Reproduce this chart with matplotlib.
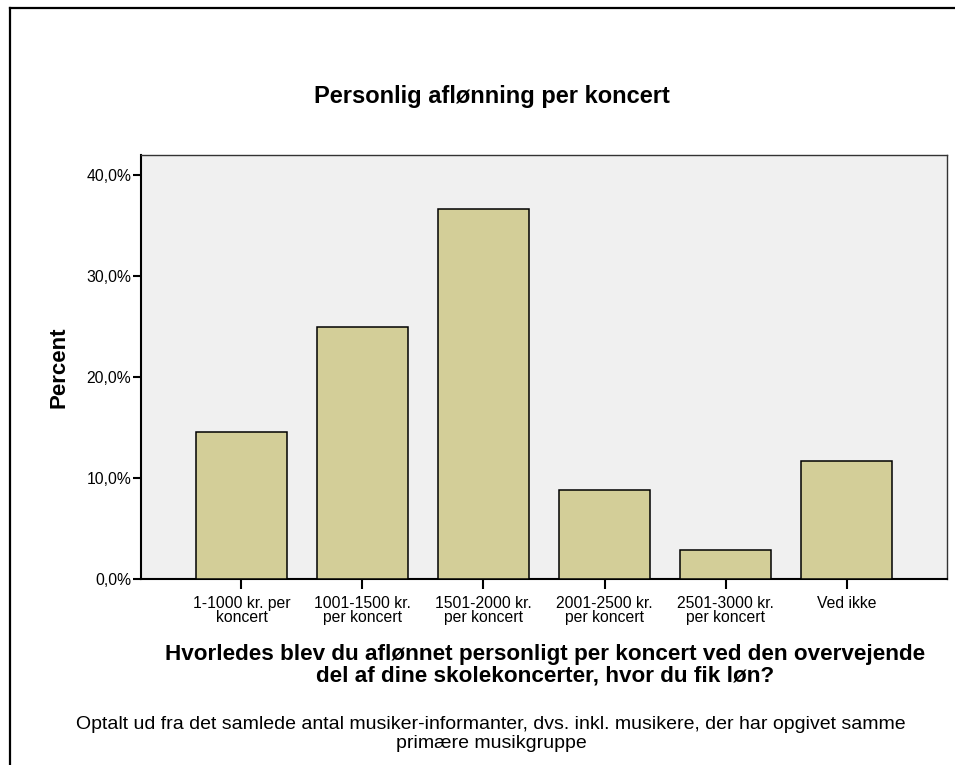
import numpy as np
import matplotlib
matplotlib.use("Agg")
import matplotlib.pyplot as plt
from matplotlib.lines import Line2D

# ---- data ----
categories = [
    "1-1000 kr. per\nkoncert",
    "1001-1500 kr.\nper koncert",
    "1501-2000 kr.\nper koncert",
    "2001-2500 kr.\nper koncert",
    "2501-3000 kr.\nper koncert",
    "Ved ikke",
]
percent = [14.6, 25.0, 36.7, 8.8, 2.9, 11.7]
yticks = [0, 10, 20, 30, 40]
ytick_labels = ["0,0%", "10,0%", "20,0%", "30,0%", "40,0%"]

title = "Personlig aflønning per koncert"
xlabel = ("Hvorledes blev du aflønnet personligt per koncert ved den overvejende\n"
          "del af dine skolekoncerter, hvor du fik løn?")
footnote = ("Optalt ud fra det samlede antal musiker-informanter, dvs. inkl. musikere, der har opgivet samme\n"
            "primære musikgruppe")

plt.rcParams["font.family"] = ["Liberation Sans", "DejaVu Sans"]

W, H = 955, 765
fig = plt.figure(figsize=(W / 100, H / 100), dpi=100)

# axes placed in pixel terms
ax_l, ax_r, ax_t, ax_b = 141, 947, 155, 579
ax = fig.add_axes([ax_l / W, 1 - ax_b / H, (ax_r - ax_l) / W, (ax_b - ax_t) / H])
ax.set_facecolor("#f0f0f0")

x = np.arange(len(categories))
ax.bar(x, percent, width=0.75, color="#d3ce98", edgecolor="black", linewidth=1.1, zorder=3)

ax.set_xlim(-0.83, len(categories) - 1 + 0.83)
ax.set_ylim(0, 42.0)
ax.set_yticks(yticks)
ax.set_yticklabels(ytick_labels, fontsize=11.3)
ax.set_xticks(x)
ax.set_xticklabels(categories, fontsize=11.3, linespacing=0.95)
ax.tick_params(axis="y", direction="out", length=6, width=1.5, pad=1)
ax.tick_params(axis="x", direction="out", length=7, width=1.5, pad=5)

for side in ["left", "bottom"]:
    ax.spines[side].set_linewidth(1.5)
for side in ["top", "right"]:
    ax.spines[side].set_linewidth(1.0)
    ax.spines[side].set_color("#333333")

ax.set_ylabel("Percent", fontsize=16, fontweight="bold", labelpad=12)

# titles and notes in figure coordinates
fig.text(492 / W, 1 - 97 / H, title, fontsize=17, fontweight="bold",
         ha="center", va="center")
fig.text(545 / W, 1 - 665 / H, xlabel, fontsize=16.2, fontweight="bold",
         ha="center", va="center", linespacing=1.05)
fig.text(491 / W, 1 - 734 / H, footnote, fontsize=14, ha="center", va="center",
         linespacing=1.2)

# outer frame (left and top edges only visible)
fig.add_artist(Line2D([10 / W, 10 / W], [0, 1 - 8 / H], transform=fig.transFigure,
                      color="black", linewidth=1.6))
fig.add_artist(Line2D([10 / W, 1], [1 - 8 / H, 1 - 8 / H], transform=fig.transFigure,
                      color="black", linewidth=1.6))

fig.savefig("out.png", dpi=100)
